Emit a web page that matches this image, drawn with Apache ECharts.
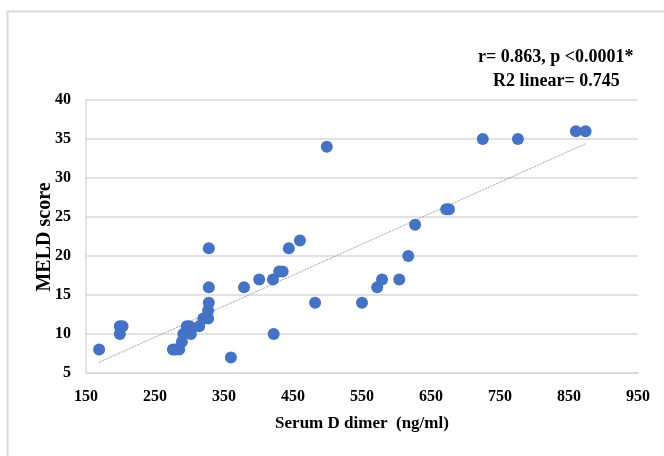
<!DOCTYPE html>
<html>
<head>
<meta charset="utf-8">
<script src="https://cdn.jsdelivr.net/npm/echarts@6/dist/echarts.min.js"></script>
<style>
html,body{margin:0;padding:0;background:#fff;}
#chart{width:664px;height:456px;}
</style>
</head>
<body>
<div id="chart"></div>
<script>
// Serum D dimer (ng/ml)
var dDimer = [169,199,203,199,276,280,285,289,291,296,302,300,314,320,327,327,328,328,328,360,379,401,421,422,430,435,444,460,482,499,550,572,579,604,617,627,672,676,725,776,860,874];
// MELD score
var meld   = [8,11,11,10,8,8,8,9,10,11,10,11,11,12,12,13,14,16,21,7,16,17,17,10,18,18,21,22,14,34,14,16,17,17,20,24,26,26,35,35,36,36];
var xTicks = [150,250,350,450,550,650,750,850,950];
var yTicks = [5,10,15,20,25,30,35,40];
var statLines = ['r= 0.863, p <0.0001*', 'R2 linear= 0.745'];
var yTitle = 'MELD score';

var points = dDimer.map(function(x,i){return [x, meld[i]];});
// least-squares trendline from the data
var n = dDimer.length, sx=0, sy=0, sxx=0, sxy=0;
for (var i=0;i<n;i++){sx+=dDimer[i];sy+=meld[i];sxx+=dDimer[i]*dDimer[i];sxy+=dDimer[i]*meld[i];}
var slope = (n*sxy - sx*sy)/(n*sxx - sx*sx);
var icpt = (sy - slope*sx)/n;
var xmin = Math.min.apply(null,dDimer), xmax = Math.max.apply(null,dDimer);
var trend = [[xmin, icpt+slope*xmin],[xmax, icpt+slope*xmax]];

var font = '"Liberation Serif","Times New Roman",serif';
var chart = echarts.init(document.getElementById('chart'), null, {renderer:'canvas'});
chart.setOption({
  backgroundColor:'#fff',
  animation:false,
  grid:{left:86,right:26,top:100,bottom:83},
  xAxis:{
    type:'value',min:xTicks[0],max:xTicks[xTicks.length-1],interval:100,
    name:'Serum D dimer  (ng/ml)',nameLocation:'middle',nameGap:42,
    nameTextStyle:{fontFamily:font,fontWeight:'bold',fontSize:17,color:'#000'},
    axisLine:{show:true,lineStyle:{color:'#d9d9d9',width:1.5}},
    axisTick:{show:false},
    splitLine:{show:false},
    axisLabel:{fontFamily:font,fontWeight:'bold',fontSize:16,color:'#000',margin:16}
  },
  yAxis:{
    type:'value',min:yTicks[0],max:yTicks[yTicks.length-1],interval:5,
    axisLine:{show:true,lineStyle:{color:'#d9d9d9',width:1.5}},
    axisTick:{show:false},
    splitLine:{show:true,lineStyle:{color:'#d9d9d9',width:1.5}},
    axisLabel:{fontFamily:font,fontWeight:'bold',fontSize:16,color:'#000',margin:15}
  },
  graphic:[
    {type:'rect',left:5,top:9,shape:{width:700,height:500},style:{fill:'none',stroke:'#d9d9d9',lineWidth:2},silent:true},
    {type:'text',left:478,top:48,style:{text:statLines[0],font:'bold 18px '+font,fill:'#000'}},
    {type:'text',left:493,top:72,style:{text:statLines[1],font:'bold 18px '+font,fill:'#000'}},
    {type:'text',x:45,y:237,rotation:Math.PI/2,
     style:{text:yTitle,font:'bold 20px '+font,fill:'#000',align:'center',verticalAlign:'middle'}}
  ],
  series:[
    {type:'line',data:trend,symbol:'none',silent:true,z:1,
     lineStyle:{color:'#a6a6a6',width:1,type:[2,1]}},
    {type:'scatter',data:points,symbolSize:12,z:2,
     itemStyle:{color:'#4472C4',opacity:1}}
  ]
});
</script>
</body>
</html>
